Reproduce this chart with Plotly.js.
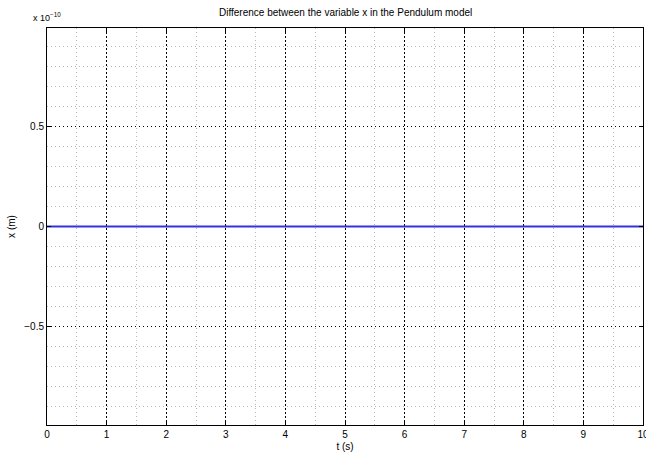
<!DOCTYPE html>
<html>
<head>
<meta charset="utf-8">
<script src="https://cdn.plot.ly/plotly-3.0.1.min.js"></script>
<style>html,body{margin:0;padding:0;background:#fff;}#chart{width:646px;height:452px;}</style>
</head>
<body>
<div id="chart"></div>
<script>
// Data (x difference is zero everywhere)
const t = [0, 0.5, 1, 1.5, 2, 2.5, 3, 3.5, 4, 4.5, 5, 5.5, 6, 6.5, 7, 7.5, 8, 8.5, 9, 9.5, 10];
const xDiff = [0, 0, 0, 0, 0, 0, 0, 0, 0, 0, 0, 0, 0, 0, 0, 0, 0, 0, 0, 0, 0];
const xTickVals = [0, 1, 2, 3, 4, 5, 6, 7, 8, 9, 10];
const yTickVals = [-0.5e-10, 0, 0.5e-10];
const yTickText = ['\u22120.5', '0', '0.5'];

const font = {family: 'Liberation Sans, Arial, Helvetica, sans-serif', size: 10, color: '#000'};

const trace = {
  x: t, y: xDiff, type: 'scatter', mode: 'lines',
  line: {color: 'rgb(50,50,225)', width: 2},
  hoverinfo: 'skip'
};

const layout = {
  width: 646, height: 452,
  margin: {l: 47, r: 3, t: 28, b: 27, pad: 0},
  paper_bgcolor: '#fff', plot_bgcolor: '#fff',
  font: font,
  showlegend: false,
  title: {text: 'Difference between the variable x in the Pendulum model', font: {family: font.family, size: 10, color: '#000'}, x: 0.535, xanchor: 'center', y: 0.973, yanchor: 'middle'},
  xaxis: {
    range: [0, 10], tickvals: xTickVals, ticks: 'inside', ticklen: 4, tickcolor: '#000',
    ticklabeloverflow: 'allow',
    showline: true, linecolor: '#000', linewidth: 1, mirror: 'ticks',
    showgrid: true, gridcolor: '#000', gridwidth: 1, griddash: '2px,2px',
    minor: {dtick: 0.5, tick0: 0, showgrid: true, gridcolor: '#b8b8b8', gridwidth: 1, griddash: '1px,3px', ticks: ''},
    zeroline: false, tickfont: font,
    title: {text: 't (s)', font: font, standoff: 4}
  },
  yaxis: {
    range: [-0.99e-10, 0.99e-10], tickvals: yTickVals, ticktext: yTickText, ticks: 'inside', ticklen: 4, tickcolor: '#000',
    showline: true, linecolor: '#000', linewidth: 1, mirror: 'ticks',
    showgrid: true, gridcolor: '#000', gridwidth: 1, griddash: '1px,3px',
    minor: {dtick: 0.1e-10, tick0: 0, showgrid: true, gridcolor: '#b8b8b8', gridwidth: 1, griddash: '1px,3px', ticks: ''},
    zeroline: false, tickfont: font,
    title: {text: 'x (m)', font: font, standoff: 6}
  },
  annotations: [{
    text: 'x 10<sup>\u221210</sup>', xref: 'paper', yref: 'paper', x: 0, y: 1, xanchor: 'center', yanchor: 'bottom',
    xshift: 0, yshift: 3, showarrow: false, font: {family: font.family, size: 9, color: '#000'}
  }]
};

Plotly.newPlot('chart', [trace], layout, {displayModeBar: false, staticPlot: true});
</script>
</body>
</html>
